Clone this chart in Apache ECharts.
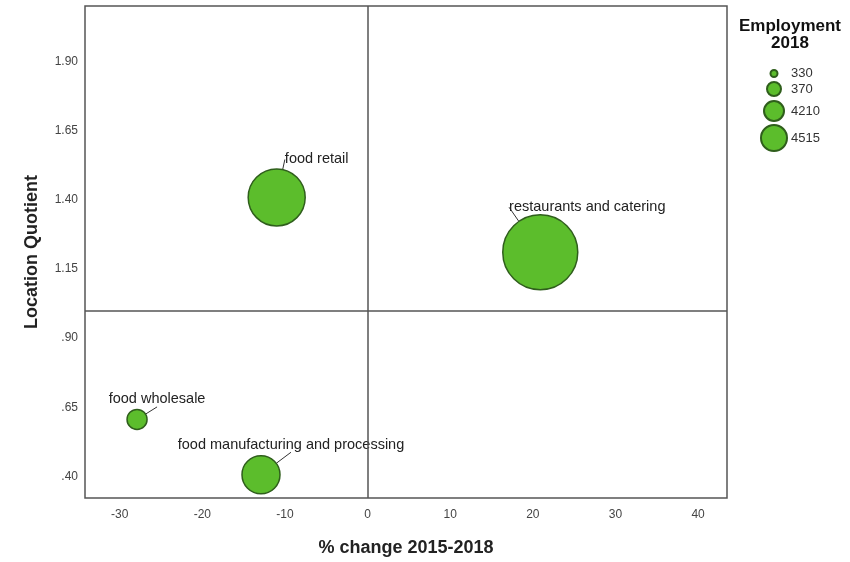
<!DOCTYPE html>
<html>
<head>
<meta charset="utf-8">
<script src="https://cdn.jsdelivr.net/npm/echarts@6/dist/echarts.min.js"></script>
<style>
html,body{margin:0;padding:0;background:#fff;}
#chart{width:850px;height:562px;}
</style>
</head>
<body>
<div id="chart"></div>
<script>
const categories = ['food wholesale', 'food manufacturing and processing', 'food retail', 'restaurants and catering'];
const pctChange = [-27.9, -12.9, -11.0, 20.9];
const locationQuotient = [0.606, 0.406, 1.408, 1.21];
const employment = [330, 370, 4210, 4515];
const xTicks = [-30, -20, -10, 0, 10, 20, 30, 40];
const yTicks = [0.40, 0.65, 0.90, 1.15, 1.40, 1.65, 1.90];

// styling (not data)
const bubbleDiam = [20, 38, 57, 75];
const legendDiam = [7, 14, 20, 26];
const legendTop = [67, 81, 100, 124];
const labelOffsets = [[20, -20], [30, -30], [40, -38], [47, -45]];

const order = employment.map((v, i) => i).sort((a, b) => employment[a] - employment[b]);
const rankOf = {};
order.forEach((idx, r) => { rankOf[idx] = r; });

const font = 'Liberation Sans, Arial, sans-serif';
const green = '#5cbd2c';
const edge = '#2f5e1c';

const series = categories.map((c, i) => ({
  type: 'scatter',
  name: String(employment[i]),
  data: [[pctChange[i], locationQuotient[i], employment[i], c]],
  symbolSize: bubbleDiam[rankOf[i]],
  itemStyle: { color: green, borderColor: edge, borderWidth: 1.5, opacity: 1 },
  label: {
    show: true, position: 'inside', formatter: c,
    color: '#222', fontSize: 14.5, fontFamily: font
  },
  labelLayout: { dx: labelOffsets[i][0], dy: labelOffsets[i][1] },
  labelLine: { show: true, lineStyle: { color: '#333', width: 1 } },
  emphasis: { disabled: true },
  z: 3
}));

series.push({
  type: 'scatter', data: [], silent: true,
  markLine: {
    symbol: 'none', silent: true, label: { show: false },
    lineStyle: { color: '#555', width: 1.5, type: 'solid' },
    data: [{ xAxis: 0 }, { yAxis: 1.0 }]
  }
});

const legends = order.map((idx, r) => {
  const d = legendDiam[r];
  return {
    data: [String(employment[idx])],
    left: 773 - d / 2, top: legendTop[r], orient: 'vertical', padding: 0,
    itemWidth: d, itemHeight: d, icon: 'circle', itemGap: 0,
    selectedMode: false,
    textStyle: { fontSize: 13, color: '#333', fontFamily: font, padding: [0, 0, 0, 12 - d / 2] }
  };
});

const option = {
  animation: false,
  backgroundColor: '#fff',
  title: {
    text: 'Employment\n2018', left: 790, top: 18, textAlign: 'center', padding: 0,
    textStyle: { fontSize: 17, fontWeight: 'bold', color: '#111', fontFamily: font, lineHeight: 17 }
  },
  legend: legends,
  grid: { left: 85, right: 123, top: 6, bottom: 62, show: true, borderColor: '#555', borderWidth: 1.5 },
  xAxis: {
    type: 'value', min: -34.2, max: 43.5,
    name: '% change 2015-2018', nameLocation: 'middle', nameGap: 41,
    nameTextStyle: { fontSize: 18, fontWeight: 'bold', color: '#222', fontFamily: font },
    axisLine: { show: false }, axisTick: { show: false }, splitLine: { show: false },
    axisLabel: { customValues: xTicks, color: '#444', fontSize: 12, fontFamily: font, margin: 11 }
  },
  yAxis: {
    type: 'value', min: 0.322, max: 2.1,
    name: 'Location Quotient', nameLocation: 'middle', nameGap: 44, nameRotate: 90,
    nameTextStyle: { fontSize: 18, fontWeight: 'bold', color: '#222', fontFamily: font },
    axisLine: { show: false }, axisTick: { show: false }, splitLine: { show: false },
    axisLabel: {
      customValues: yTicks, color: '#444', fontSize: 12, fontFamily: font, margin: 7,
      formatter: v => v.toFixed(2).replace(/^0\./, '.')
    }
  },
  series: series
};

const chart = echarts.init(document.getElementById('chart'), null, { renderer: 'canvas' });
chart.setOption(option);
</script>
</body>
</html>
